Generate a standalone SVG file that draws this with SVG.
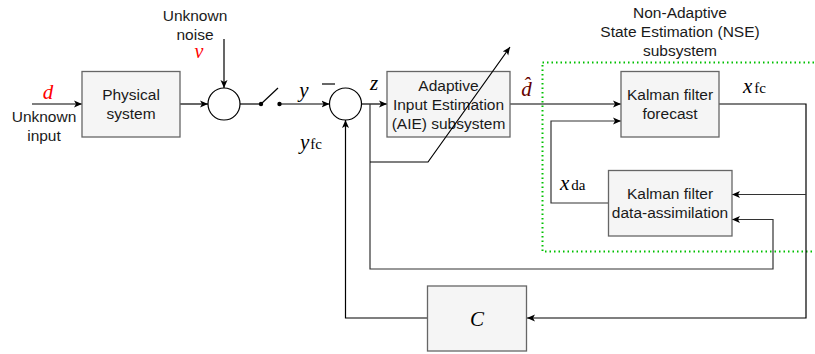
<svg xmlns="http://www.w3.org/2000/svg" width="815" height="354" viewBox="0 0 815 354">
<style>
.box{fill:#f5f5f5;stroke:#666666;stroke-width:1.3}
.ln{fill:none;stroke:#000;stroke-width:1.2}
.lg{fill:none;stroke:#333;stroke-width:1.2}
.t{font-family:"Liberation Sans",Arial,sans-serif;font-size:15.5px;fill:#1a1a1a;text-anchor:middle}
.m{font-family:"Liberation Serif","Times New Roman",serif;font-style:italic;font-size:21px;fill:#000}
.s{font-family:"Liberation Serif","Times New Roman",serif;font-style:normal;font-size:15px;fill:#000}
</style>
<defs>
<marker id="ar" markerWidth="10" markerHeight="10" refX="8" refY="4" orient="auto" markerUnits="userSpaceOnUse">
<path d="M0,0.5 L8,4 L0,7.5 L2,4 Z" fill="#000"/>
</marker>
</defs>
<rect x="542.5" y="62.5" width="290" height="189" fill="none" stroke="#00c000" stroke-width="2" stroke-dasharray="1.5 3"/>
<g id="connectors">
<line class="ln" x1="32" y1="104" x2="82" y2="104" marker-end="url(#ar)"/>
<line class="ln" x1="180" y1="104" x2="208" y2="104" marker-end="url(#ar)"/>
<line class="ln" x1="224" y1="39" x2="224" y2="88" marker-end="url(#ar)"/>
<line class="ln" x1="240" y1="104" x2="261" y2="104"/>
<circle cx="261" cy="104" r="2.2" fill="#000"/>
<line class="ln" x1="261" y1="104" x2="278" y2="88"/>
<circle cx="279.5" cy="104" r="2.2" fill="#000"/>
<line class="ln" x1="279.5" y1="104" x2="329.5" y2="104" marker-end="url(#ar)"/>
<line class="ln" x1="361.5" y1="104" x2="387" y2="104" marker-end="url(#ar)"/>
<polyline class="lg" points="370,104 370,269 773,269 773,219.5 732,219.5" marker-end="url(#ar)"/>
<line class="ln" x1="510" y1="104" x2="621" y2="104" marker-end="url(#ar)"/>
<polyline class="lg" points="608,203 551,203 551,121 621,121" marker-end="url(#ar)"/>
<polyline class="ln" points="719,104 806,104 806,318 527,318" marker-end="url(#ar)"/>
<polyline class="lg" points="806,194.5 732,194.5" marker-end="url(#ar)"/>
<polyline class="ln" points="427,318 345.5,318 345.5,120" marker-end="url(#ar)"/>
</g>
<g id="physical">
<rect class="box" x="82" y="71.5" width="98" height="65.5"/>
<text class="t" x="131" y="100">Physical</text>
<text class="t" x="131" y="119">system</text>
</g>
<g id="sum1"><circle cx="224" cy="104" r="16" fill="#fff" stroke="#000" stroke-width="1.2"/></g>
<g id="sum2"><circle cx="345.5" cy="104" r="16" fill="#fff" stroke="#000" stroke-width="1.2"/></g>
<g id="aie">
<rect class="box" x="387" y="71.5" width="123" height="65.5"/>
<text class="t" x="448.5" y="91">Adaptive</text>
<text class="t" x="448.5" y="110">Input Estimation</text>
<text class="t" x="448.5" y="129">(AIE) subsystem</text>
</g>
<g id="adapt-arrow">
<polyline class="ln" points="370,162 428,162 510,47" marker-end="url(#ar)"/>
</g>
<g id="forecast">
<rect class="box" x="621" y="71.5" width="98" height="65.5"/>
<text class="t" x="670" y="100">Kalman filter</text>
<text class="t" x="670" y="119">forecast</text>
</g>
<g id="da">
<rect class="box" x="608.5" y="170.5" width="123.5" height="65.5"/>
<text class="t" x="670" y="199">Kalman filter</text>
<text class="t" x="670" y="218">data-assimilation</text>
</g>
<g id="c">
<rect class="box" x="427.5" y="286" width="99" height="65"/>
<text class="m" x="477" y="326" text-anchor="middle" font-size="25px">C</text>
</g>
<g id="labels">
<text class="t" x="44" y="122">Unknown</text>
<text class="t" x="44" y="141">input</text>
<text class="t" x="195" y="21">Unknown</text>
<text class="t" x="195" y="40">noise</text>
<text class="t" x="680" y="18">Non-Adaptive</text>
<text class="t" x="680" y="37">State Estimation (NSE)</text>
<text class="t" x="680" y="56">subsystem</text>
<text class="m" x="48" y="98.5" text-anchor="middle" style="fill:#ff0000">d</text>
<text class="m" x="199" y="57.5" text-anchor="middle" style="fill:#ff0000;font-size:20px">v</text>
<text class="m" x="304" y="97" text-anchor="middle">y</text>
<line x1="322" y1="84" x2="335" y2="84" stroke="#000" stroke-width="1.2"/>
<text class="m" x="374" y="90" text-anchor="middle">z</text>
<text class="m" x="300" y="149">y<tspan class="s" dx="1">fc</tspan></text>
<text class="m" x="526.5" y="96" text-anchor="middle" style="fill:#660000">d&#x302;</text>
<text class="m" x="743" y="93">x<tspan class="s" dx="2">fc</tspan></text>
<text class="m" x="560" y="190">x<tspan class="s" dx="2">da</tspan></text>
</g>
</svg>
